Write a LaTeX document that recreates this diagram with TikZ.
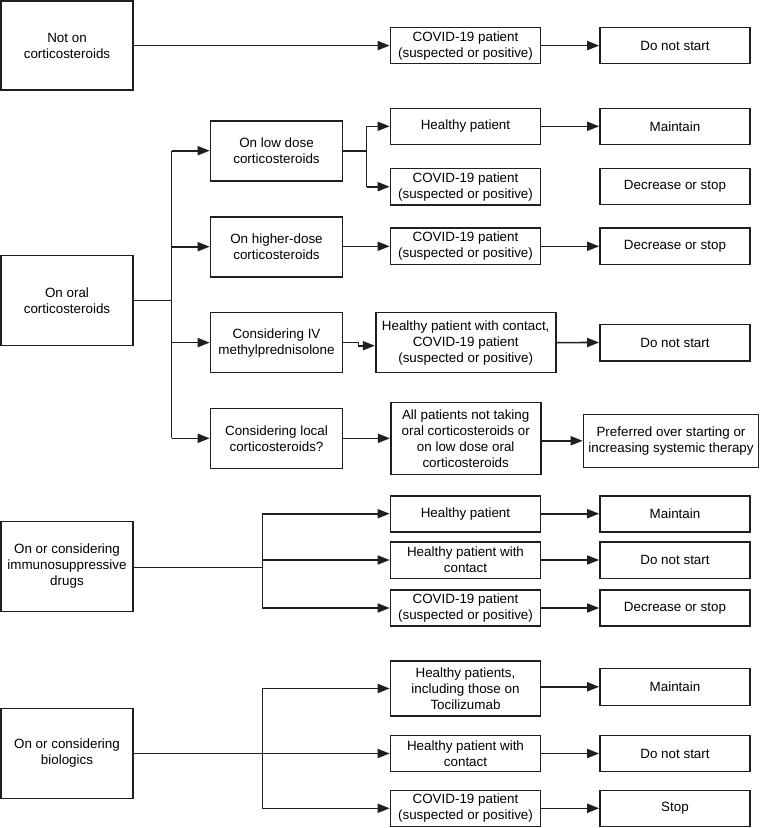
\documentclass[tikz,border=0pt]{standalone}
\usepackage{fontspec}
\setmainfont{Liberation Sans}
\usetikzlibrary{arrows.meta}
\begin{document}
\begin{tikzpicture}[x=1pt,y=-1pt,
  box/.style={draw=black!88, line width=1.6pt, align=center, inner sep=0pt,
    font=\fontsize{13.4}{16}\selectfont},
  conn/.style={line width=1.6pt, draw=black!88},
  arr/.style={conn, -{Triangle[length=12pt,width=9pt]}}]
\useasboundingbox (0,0) rectangle (766,828);

% ---------- Section 1 ----------
\node[box, minimum width=132, minimum height=89] (n1) at (67,45.5) {Not on\\corticosteroids};
\node[box, minimum width=150, minimum height=36] (n2) at (465.5,45.6) {COVID-19 patient\\(suspected or positive)};
\node[box, minimum width=150, minimum height=36] (n3) at (675,45.6) {Do not start};
\draw[arr] (n1.east |- n2.west) -- (n2.west);
\draw[arr] (n2.east) -- (n3.west);

% ---------- Section 2 ----------
\node[box, minimum width=132, minimum height=90] (o) at (67,300.5) {On oral\\corticosteroids};
\node[box, minimum width=132, minimum height=60] (o1) at (276.5,150.7) {On low dose\\corticosteroids};
\node[box, minimum width=132, minimum height=60] (o2) at (276.5,246.7) {On higher-dose\\corticosteroids};
\node[box, minimum width=132, minimum height=60] (o3) at (276.5,342.6) {Considering IV\\methylprednisolone};
\node[box, minimum width=132, minimum height=60] (o4) at (276.5,438.3) {Considering local\\corticosteroids?};
\coordinate (t) at (171.5,300.5);
\draw[conn] (o.east) -- (t);
\draw[conn] (o1.west -| t) -- (o4.west -| t);
\draw[arr] (o1.west -| t) -- (o1.west);
\draw[arr] (o2.west -| t) -- (o2.west);
\draw[arr] (o3.west -| t) -- (o3.west);
\draw[arr] (o4.west -| t) -- (o4.west);

\node[box, minimum width=150, minimum height=36] (l1) at (465.5,126.3) {Healthy patient};
\node[box, minimum width=150, minimum height=36] (l1r) at (675,126.3) {Maintain};
\node[box, minimum width=150, minimum height=36.7] (l2) at (465.5,186.7) {COVID-19 patient\\(suspected or positive)};
\node[box, minimum width=150, minimum height=36] (l2r) at (675,186.3) {Decrease or stop};
\coordinate (lb) at (366.5,150.7);
\draw[conn] (o1.east) -- (lb);
\draw[conn] (l1.west -| lb) -- (l2.west -| lb);
\draw[arr] (l1.west -| lb) -- (l1.west);
\draw[arr] (l2.west -| lb) -- (l2.west);
\draw[arr] (l1.east) -- (l1r.west);

\node[box, minimum width=150, minimum height=36.6] (h1) at (465.5,246.3) {COVID-19 patient\\(suspected or positive)};
\node[box, minimum width=150, minimum height=36.6] (h1r) at (675,246.3) {Decrease or stop};
\draw[arr] (o2.east |- h1.west) -- (h1.west);
\draw[arr] (h1.east) -- (h1r.west);

\node[box, minimum width=180, minimum height=60] (i1) at (465.7,342.6) {Healthy patient with contact,\\COVID-19 patient\\(suspected or positive)};
\node[box, minimum width=150, minimum height=36.4] (i1r) at (675,342.5) {Do not start};
\coordinate (ij) at (358.5,342.6);
\draw[arr] (o3.east) -- (ij) -- ++(0,3.1) -- ([yshift=-3.1pt]i1.west);
\draw[arr] (i1.east) -- (i1r.west);

\node[box, minimum width=150, minimum height=72] (c1) at (465.7,438.3) {All patients not taking\\oral corticosteroids or\\on low dose oral\\corticosteroids};
\node[box, minimum width=175, minimum height=53] (c1r) at (671,440.8) {Preferred over starting or\\increasing systemic therapy};
\draw[arr] (o4.east) -- (c1.west);
\draw[arr] (c1.east |- c1r.west) -- (c1r.west);

% ---------- Section 3 ----------
\node[box, minimum width=132, minimum height=90] (im) at (67,566.5) {On or considering\\immunosuppressive\\drugs};
\node[box, minimum width=150, minimum height=36] (m1) at (465.5,513.7) {Healthy patient};
\node[box, minimum width=150, minimum height=36] (m1r) at (675,513.7) {Maintain};
\node[box, minimum width=150, minimum height=36.6] (m2) at (465.5,560) {Healthy patient with\\contact};
\node[box, minimum width=150, minimum height=36.6] (m2r) at (675,560) {Do not start};
\node[box, minimum width=150, minimum height=36] (m3) at (465.5,608) {COVID-19 patient\\(suspected or positive)};
\node[box, minimum width=150, minimum height=36] (m3r) at (675,608) {Decrease or stop};
\coordinate (t3) at (262.3,567.3);
\draw[conn] (im.east |- t3) -- (t3);
\draw[conn] (m1.west -| t3) -- (m3.west -| t3);
\draw[arr] (m1.west -| t3) -- (m1.west);
\draw[arr] (m2.west -| t3) -- (m2.west);
\draw[arr] (m3.west -| t3) -- (m3.west);
\draw[arr] (m1.east) -- (m1r.west);
\draw[arr] (m2.east) -- (m2r.west);
\draw[arr] (m3.east) -- (m3r.west);

% ---------- Section 4 ----------
\node[box, minimum width=132, minimum height=90] (bio) at (67,753.5) {On or considering\\biologics};
\node[box, minimum width=150, minimum height=55] (b1) at (465.5,688.5) {Healthy patients,\\including those on\\Tocilizumab};
\node[box, minimum width=150, minimum height=37] (b1r) at (675,686.8) {Maintain};
\node[box, minimum width=150, minimum height=36] (b2) at (465.5,753.5) {Healthy patient with\\contact};
\node[box, minimum width=150, minimum height=36] (b2r) at (675,753.5) {Do not start};
\node[box, minimum width=150, minimum height=36] (b3) at (465.5,808.3) {COVID-19 patient\\(suspected or positive)};
\node[box, minimum width=150, minimum height=36] (b3r) at (675,808.3) {Stop};
\coordinate (t4) at (262.3,753.5);
\draw[conn] (bio.east) -- (t4);
\draw[conn] (b1.west -| t4) -- (b3.west -| t4);
\draw[arr] (b1.west -| t4) -- (b1.west);
\draw[arr] (b2.west -| t4) -- (b2.west);
\draw[arr] (b3.west -| t4) -- (b3.west);
\draw[arr] (b1.east |- b1r.west) -- (b1r.west);
\draw[arr] (b2.east) -- (b2r.west);
\draw[arr] (b3.east) -- (b3r.west);
\end{tikzpicture}
\end{document}
